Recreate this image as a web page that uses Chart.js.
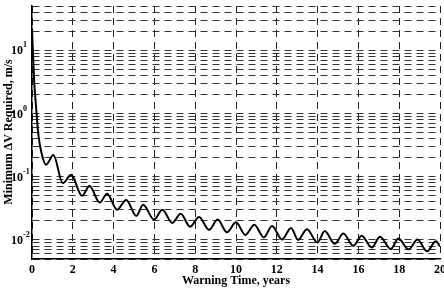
<!DOCTYPE html>
<html>
<head>
<meta charset="utf-8">
<script src="https://cdn.jsdelivr.net/npm/chart.js@4/dist/chart.umd.min.js"></script>
<style>
  body { margin: 0; background: #fff; }
</style>
</head>
<body>
<canvas id="dv-chart" width="444" height="290"></canvas>
<script>
// warning time (years) and minimum delta-V (m/s)
const years = [0, 0.1, 0.2, 0.3, 0.45, 0.69, 1.05, 1.51, 1.92, 2.45, 2.82, 3.32, 3.68,
  4.17, 4.62, 5.11, 5.45, 5.98, 6.39, 6.88, 7.29, 7.75, 8.19, 8.68, 9.1, 9.56, 10.0,
  10.46, 10.9, 11.36, 11.77, 12.25, 12.7, 13.04, 13.48, 13.99, 14.35, 14.84, 15.26,
  15.75, 16.16, 16.65, 17.06, 17.59, 17.96, 18.46, 18.9, 19.36, 19.8, 20];
const deltaV = [22, 3.5, 1.26, 0.5, 0.25, 0.155, 0.22, 0.079, 0.107, 0.050, 0.071, 0.039, 0.054,
  0.030, 0.043, 0.024, 0.036, 0.021, 0.030, 0.0186, 0.026, 0.0162, 0.023, 0.0145, 0.021, 0.0132, 0.019,
  0.012, 0.0174, 0.011, 0.0166, 0.0102, 0.0155, 0.0100, 0.0148, 0.0091, 0.0138, 0.0087, 0.0126,
  0.0081, 0.0117, 0.0076, 0.0112, 0.0072, 0.0105, 0.0071, 0.0102, 0.0066, 0.0095, 0.0079];
const xTicks = [0, 2, 4, 6, 8, 10, 12, 14, 16, 18, 20];
const decades = [-2, -1, 0, 1];
const yMin = 0.005, yMax = 50;

const serif = '"Liberation Serif", "Times New Roman", serif';

// minor log grid: 1..9 x 10^k between yMin and yMax
function logGrid() {
  const out = [];
  for (let k = -3; k <= 1; k++) {
    for (let m = 1; m <= 9; m++) {
      const v = +(m * Math.pow(10, k)).toPrecision(3);
      if (v >= yMin - 1e-9 && v <= yMax + 1e-9) out.push({ value: v });
    }
  }
  return out;
}

const labelsPlugin = {
  id: 'labels',
  afterDraw(chart) {
    const ctx = chart.ctx;
    const ys = chart.scales.y;
    ctx.save();
    ctx.fillStyle = '#000';
    decades.forEach(k => {
      const py = ys.getPixelForValue(Math.pow(10, k));
      ctx.font = 'bold 12px ' + serif;
      ctx.textAlign = 'right';
      ctx.textBaseline = 'middle';
      ctx.fillText('10', 23, py + 1);
      ctx.font = 'bold 8px ' + serif;
      ctx.textAlign = 'left';
      ctx.fillText(String(k), 23, py - 5);
    });
    ctx.translate(9, 132);
    ctx.rotate(-Math.PI / 2);
    ctx.font = 'bold 12px ' + serif;
    ctx.textAlign = 'center';
    ctx.textBaseline = 'middle';
    ctx.fillText('Minimum \u0394V Required, m/s', 0, 0);
    ctx.restore();
  }
};

new Chart(document.getElementById('dv-chart'), {
  type: 'line',
  data: {
    datasets: [{
      data: years.map((t, i) => ({ x: t, y: deltaV[i] })),
      borderColor: '#000',
      borderWidth: 2,
      pointRadius: 0,
      cubicInterpolationMode: 'monotone',
      fill: false
    }]
  },
  options: {
    responsive: false,
    animation: false,
    layout: { padding: { top: 6, right: 4, left: 0, bottom: 0 } },
    plugins: { legend: { display: false }, tooltip: { enabled: false } },
    scales: {
      x: {
        type: 'linear',
        min: 0,
        max: 20,
        afterBuildTicks: s => { s.ticks = xTicks.map(v => ({ value: v })); },
        afterFit: s => { s.height = 31; s.paddingLeft = 0; s.paddingRight = 0; },
        ticks: { color: '#000', padding: 4, font: { family: serif, size: 12, weight: 'bold' } },
        grid: { color: '#222', lineWidth: 1, drawTicks: false },
        border: { display: true, color: '#000', width: 1.5, dash: [7, 5] },
        title: {
          display: true,
          text: 'Warning Time, years',
          color: '#000',
          padding: { top: 0, bottom: 2 },
          font: { family: serif, size: 12, weight: 'bold' }
        }
      },
      y: {
        type: 'logarithmic',
        min: yMin,
        max: yMax,
        afterBuildTicks: s => { s.ticks = logGrid(); },
        afterFit: s => { s.width = 32; },
        ticks: { display: false },
        grid: { color: '#333', lineWidth: 1, drawTicks: false },
        border: { display: true, color: '#000', width: 1.5, dash: [7, 5] }
      }
    }
  },
  plugins: [labelsPlugin]
});
</script>
</body>
</html>
